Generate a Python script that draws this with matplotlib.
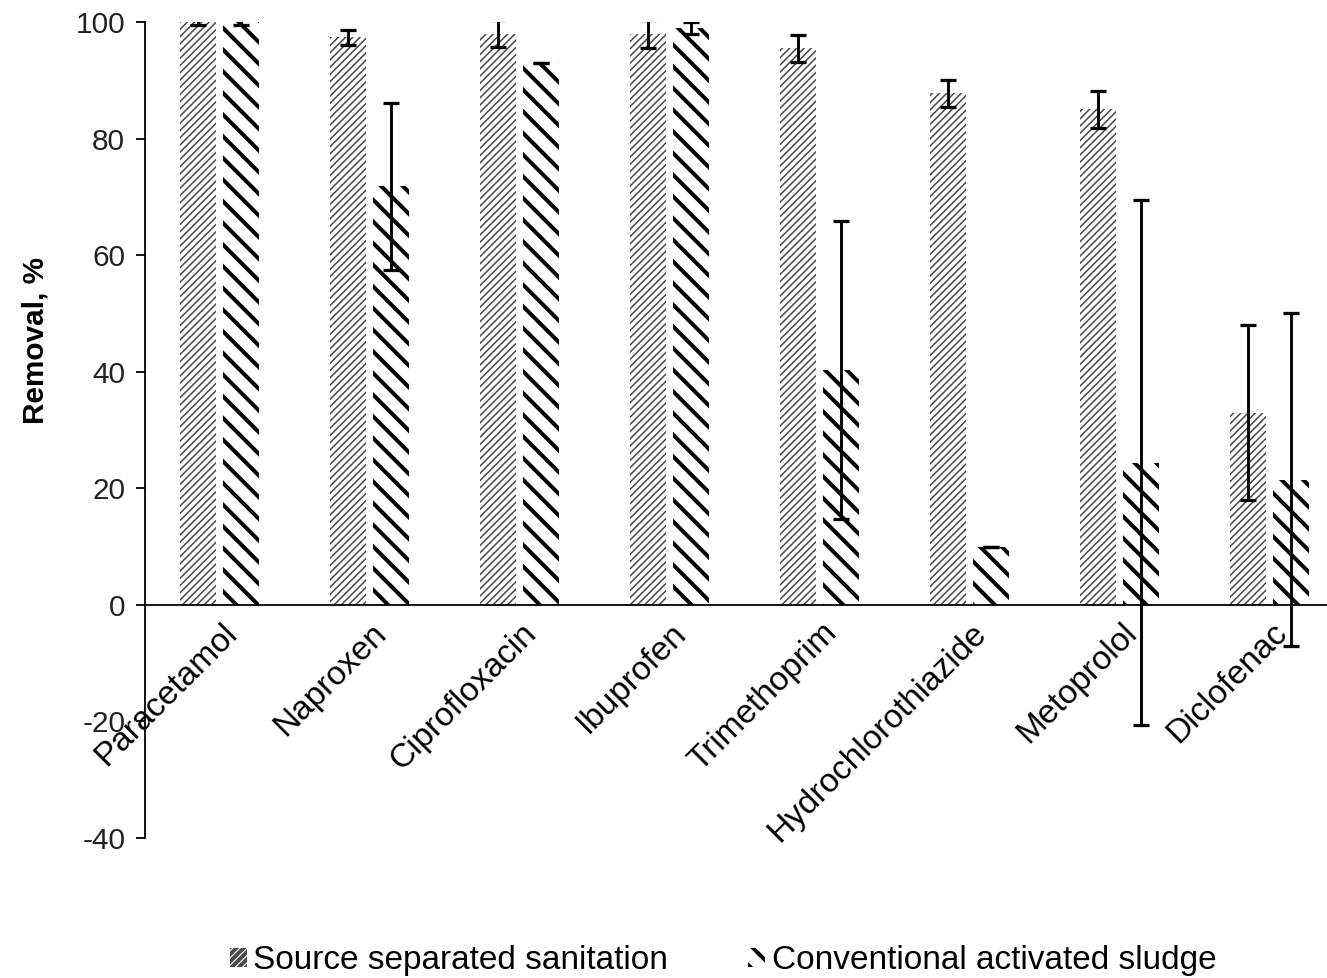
import numpy as np
import matplotlib.pyplot as plt

plt.rcParams['font.family'] = ['Liberation Sans', 'DejaVu Sans']
plt.rcParams['axes.unicode_minus'] = False

# Data
compounds = ['Paracetamol', 'Naproxen', 'Ciprofloxacin', 'Ibuprofen', 'Trimethoprim',
             'Hydrochlorothiazide', 'Metoprolol', 'Diclofenac']
source_mean = [100, 97.4, 98.0, 98.0, 95.5, 87.8, 85.0, 33.0]
source_err = [0.5, 1.3, 2.3, 2.4, 2.3, 2.3, 3.2, 15.0]
conv_mean = [100, 71.8, 93.0, 99.0, 40.3, 10.0, 24.4, 21.5]
conv_err = [0.5, 14.3, 0.0, 1.0, 25.5, 0.0, 45.0, 28.5]

dpi = 130
fig = plt.figure(figsize=(1327 / dpi, 978 / dpi), dpi=dpi)
ax = fig.add_axes([145 / 1327, 1 - 838 / 978, 1200 / 1327, (838 - 22) / 978])

x = np.arange(len(compounds))
w = 0.24

plt.rcParams['hatch.linewidth'] = 0.85
b1 = ax.bar(x - 0.145, source_mean, w, color='white', edgecolor='#4a4a4a',
            linewidth=0, hatch='//////', label='Source separated sanitation')
for p in b1:
    if hasattr(p, 'set_hatch_linewidth'):
        p.set_hatch_linewidth(0.85)

plt.rcParams['hatch.linewidth'] = 2.2
b2 = ax.bar(x + 0.14, conv_mean, w, color='white', edgecolor='black',
            linewidth=0, hatch='\\\\', label='Conventional activated sludge')
for p in b2:
    if hasattr(p, 'set_hatch_linewidth'):
        p.set_hatch_linewidth(2.2)

ax.errorbar(x - 0.145, source_mean, yerr=source_err, fmt='none', ecolor='black',
            elinewidth=1.6, capsize=4.5, capthick=1.8)
ax.errorbar(x + 0.14, conv_mean, yerr=conv_err, fmt='none', ecolor='black',
            elinewidth=1.6, capsize=4.5, capthick=1.8)

ax.set_xlim(-0.5, 7.5)
ax.set_ylim(-40, 100)
ax.set_yticks(np.arange(-40, 101, 20))
ax.tick_params(axis='y', direction='out', length=5, width=1, labelsize=16.5,
               labelcolor='#222222', pad=6)
ax.set_ylabel('Removal, %', fontsize=16.5, fontweight='bold')
ax.yaxis.set_label_coords(-0.08, 0.61)

ax.spines['top'].set_visible(False)
ax.spines['right'].set_visible(False)
ax.spines['bottom'].set_position(('data', 0))
ax.spines['left'].set_linewidth(1)
ax.spines['bottom'].set_linewidth(1)

ax.set_xticks(x + 0.08)
ax.set_xticklabels(compounds, rotation=45, ha='right', va='center',
                   rotation_mode='anchor', fontsize=18.5)
ax.tick_params(axis='x', length=0, pad=13)

fig.legend(handles=[b1, b2], loc='center', bbox_to_anchor=(0.545, 0.018),
           ncol=2, frameon=False, fontsize=18.5, handlelength=0.5,
           handleheight=0.5, handletextpad=0.2, columnspacing=2.4)

fig.savefig('out.png', dpi=dpi)
